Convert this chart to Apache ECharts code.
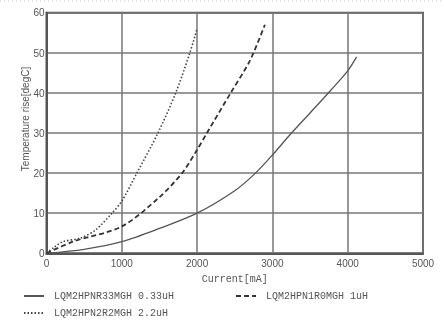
<!DOCTYPE html>
<html>
<head>
<meta charset="utf-8">
<script src="https://cdn.jsdelivr.net/npm/echarts@6/dist/echarts.min.js"></script>
<style>
  html, body { margin: 0; padding: 0; background: #fff; }
  #chart { width: 444px; height: 321px; }
</style>
</head>
<body>
<div id="chart"></div>
<script>
// current [mA], temperature rise [degC]
var r33Current = [0, 500, 1000, 1500, 2000, 2500, 2765, 3000, 3230, 3500, 3782, 4000, 4118]
var r33Temp    = [0, 1.0, 2.9, 6.2, 10, 15.6, 19.8, 24.5, 29.5, 35, 40.8, 45.5, 49]

var r1Current = [0, 350, 1000, 1500, 1800, 2000, 2130, 2446, 2700, 2900]
var r1Temp    = [0, 2.9, 6.7, 14, 20, 25.8, 30, 40, 48, 57]

var r22Current = [0, 100, 220, 450, 650, 870, 1000, 1200, 1480, 1716, 1904, 2000]
var r22Temp    = [0, 1.5, 2.9, 3.8, 5.8, 10, 13, 20, 30, 40, 50, 56]

var names = ['LQM2HPNR33MGH 0.33uH', 'LQM2HPN1R0MGH 1uH', 'LQM2HPN2R2MGH 2.2uH']

function pairs(xs, ys) {
  return xs.map(function (x, i) { return [x, ys[i]] })
}

var chart = echarts.init(document.getElementById('chart'))

var tickFont = { fontFamily: 'Liberation Sans', fontSize: 10, color: '#555' }
var monoFont = { fontFamily: 'Liberation Mono', fontSize: 10, color: '#555' }

function legendAt(name, left, top) {
  return {
    data: [name],
    left: left,
    top: top,
    itemWidth: 20,
    itemHeight: 8,
    itemStyle: { opacity: 0 },
    textStyle: Object.assign({ padding: [0, 0, 0, 5] }, monoFont),
    selectedMode: false
  }
}

// plain numbers, no thousands separator
function plain(v) { return String(v) }

chart.setOption({
  animation: false,
  backgroundColor: '#fff',
  grid: {
    left: 46.5,
    right: 21,
    top: 12.7,
    bottom: 67.7,
    show: true,
    borderColor: '#555',
    borderWidth: 2
  },
  legend: [
    legendAt(names[0], 18, 286),
    legendAt(names[1], 230, 286),
    legendAt(names[2], 18, 303)
  ],
  graphic: [{
    type: 'line',
    shape: { x1: 0, y1: 1, x2: 444, y2: 1 },
    style: { stroke: '#ccc', lineWidth: 1, lineDash: [1, 3] }
  }],
  xAxis: {
    type: 'value',
    min: 0,
    max: 5000,
    interval: 1000,
    name: 'Current[mA]',
    nameLocation: 'middle',
    nameGap: 17,
    nameTextStyle: monoFont,
    axisLine: { show: true, lineStyle: { color: '#555', width: 2 } },
    axisTick: { show: false },
    axisLabel: Object.assign({ margin: 6, formatter: plain }, tickFont),
    splitLine: { show: true, lineStyle: { color: '#777', width: 1.5 } }
  },
  yAxis: {
    type: 'value',
    min: 0,
    max: 60,
    interval: 10,
    name: 'Temperature rise[degC]',
    nameLocation: 'middle',
    nameGap: 15,
    nameMoveOverlap: false,
    nameTextStyle: { fontFamily: 'Liberation Sans', fontSize: 10, color: '#555', padding: [0, 0, 0, 28] },
    axisLine: { show: true, lineStyle: { color: '#555', width: 2 } },
    axisTick: { show: false },
    axisLabel: Object.assign({ margin: 2, verticalAlign: 'top', padding: [-4, 0, 0, 0], formatter: plain }, tickFont),
    splitLine: { show: true, lineStyle: { color: '#777', width: 1.5 } }
  },
  series: [{
    name: names[0],
    type: 'line',
    smooth: 0.3,
    symbol: 'none',
    data: pairs(r33Current, r33Temp),
    lineStyle: { color: '#555', width: 1.3, type: 'solid' },
    itemStyle: { color: '#555' }
  }, {
    name: names[1],
    type: 'line',
    smooth: 0.3,
    symbol: 'none',
    data: pairs(r1Current, r1Temp),
    lineStyle: { color: '#333', width: 1.8, type: [5, 3] },
    itemStyle: { color: '#333' }
  }, {
    name: names[2],
    type: 'line',
    smooth: 0.3,
    symbol: 'none',
    data: pairs(r22Current, r22Temp),
    lineStyle: { color: '#444', width: 1.6, type: [1.5, 2] },
    itemStyle: { color: '#444' }
  }]
})
</script>
</body>
</html>
